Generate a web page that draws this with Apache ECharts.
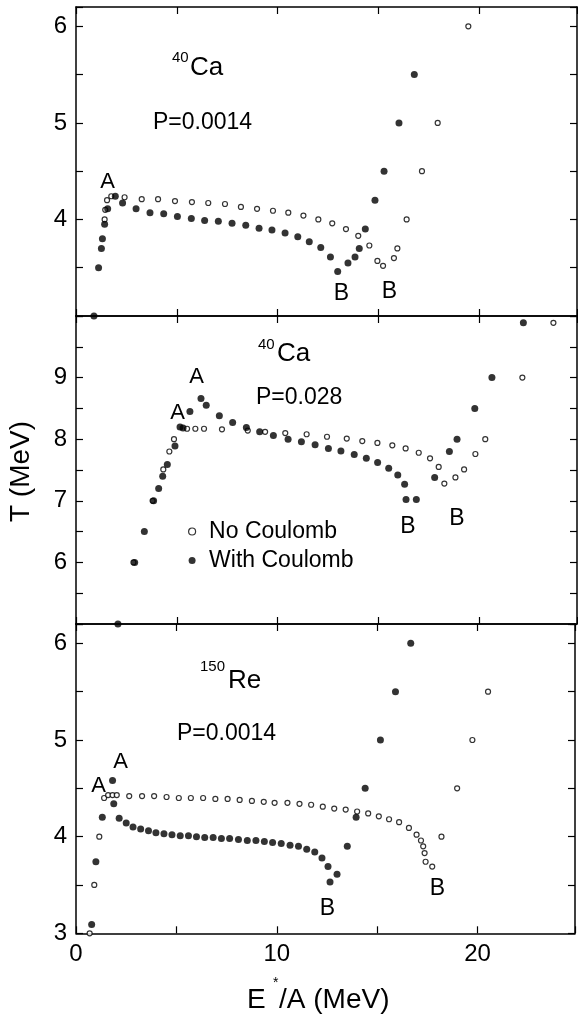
<!DOCTYPE html>
<html>
<head>
<meta charset="utf-8">
<script src="https://cdn.jsdelivr.net/npm/echarts@6/dist/echarts.min.js"></script>
<style>
  html, body { margin: 0; padding: 0; background: #fff; }
  #chart { width: 578px; height: 1017px; }
</style>
</head>
<body>
<div id="chart"></div>
<script>
// Temperature T (MeV) versus excitation energy per nucleon E*/A (MeV)
// [E*/A, T] pairs, open circles = no Coulomb, filled circles = with Coulomb

// 40Ca, P = 0.0014
const ca0014NoCoulomb = [[1.42,4.00],[1.45,4.10],[1.54,4.20],[1.75,4.24],[2.41,4.23],[3.26,4.21],[4.07,4.21],[4.91,4.19],[5.75,4.18],[6.56,4.17],[7.39,4.16],[8.18,4.13],[8.98,4.11],[9.77,4.09],[10.53,4.07],[11.28,4.04],[12.02,4.00],[12.71,3.96],[13.39,3.90],[14.00,3.83],[14.55,3.73],[14.95,3.57],[15.23,3.52],[15.77,3.60],[15.94,3.70],[16.40,4.00],[17.16,4.50],[17.94,5.00],[19.46,6.00]];
const ca0014WithCoulomb = [[0.89,3.00],[1.12,3.50],[1.26,3.70],[1.31,3.80],[1.42,3.95],[1.57,4.11],[1.95,4.24],[2.31,4.17],[2.98,4.11],[3.67,4.07],[4.35,4.06],[5.03,4.03],[5.72,4.01],[6.38,3.99],[7.06,3.98],[7.74,3.96],[8.42,3.94],[9.08,3.91],[9.72,3.89],[10.37,3.86],[11.00,3.82],[11.57,3.77],[12.14,3.71],[12.62,3.61],[12.98,3.46],[13.49,3.55],[13.84,3.61],[14.05,3.70],[14.35,3.90],[14.83,4.20],[15.28,4.50],[16.02,5.00],[16.78,5.50]];

// 40Ca, P = 0.028
const ca028NoCoulomb = [[2.85,6.00],[3.80,7.00],[4.33,7.51],[4.63,7.80],[4.86,8.00],[5.51,8.17],[5.92,8.17],[6.35,8.17],[7.24,8.16],[8.52,8.14],[9.38,8.12],[10.38,8.10],[11.44,8.08],[12.45,8.04],[13.43,8.01],[14.20,7.97],[14.95,7.94],[15.69,7.90],[16.35,7.85],[17.00,7.78],[17.56,7.69],[17.99,7.55],[18.27,7.28],[18.82,7.38],[19.25,7.51],[19.81,7.76],[20.30,8.00],[22.14,9.00],[23.68,9.89]];
const ca028WithCoulomb = [[2.08,5.00],[2.91,6.00],[3.39,6.50],[3.85,7.00],[4.10,7.20],[4.30,7.40],[4.53,7.59],[4.91,7.89],[5.16,8.20],[5.31,8.18],[5.65,8.45],[6.20,8.66],[6.46,8.55],[7.11,8.38],[7.77,8.27],[8.45,8.19],[9.11,8.12],[9.79,8.06],[10.52,8.00],[11.18,7.96],[11.86,7.91],[12.52,7.85],[13.14,7.81],[13.80,7.75],[14.40,7.69],[14.96,7.62],[15.51,7.53],[15.96,7.42],[16.30,7.27],[16.37,7.02],[16.88,7.02],[17.79,7.38],[18.52,7.80],[18.90,8.00],[19.78,8.50],[20.63,9.00],[22.19,9.89]];

// 150Re, P = 0.0014
const re0014NoCoulomb = [[0.68,3.00],[0.91,3.50],[1.16,4.00],[1.40,4.40],[1.60,4.43],[1.82,4.43],[2.03,4.43],[2.65,4.42],[3.29,4.42],[3.89,4.42],[4.51,4.41],[5.12,4.40],[5.72,4.40],[6.33,4.40],[6.94,4.39],[7.55,4.39],[8.15,4.38],[8.76,4.37],[9.35,4.36],[9.89,4.35],[10.53,4.35],[11.13,4.34],[11.71,4.33],[12.29,4.31],[12.86,4.29],[13.43,4.28],[14.00,4.26],[14.55,4.24],[15.08,4.21],[15.59,4.18],[16.09,4.15],[16.58,4.09],[16.96,4.02],[17.18,3.96],[17.29,3.90],[17.36,3.83],[17.41,3.74],[17.74,3.69],[18.20,4.00],[18.98,4.50],[19.74,5.00],[20.52,5.50]];
const re0014WithCoulomb = [[0.78,3.09],[0.99,3.74],[1.31,4.20],[1.82,4.58],[1.88,4.34],[2.15,4.19],[2.50,4.14],[2.84,4.10],[3.22,4.08],[3.61,4.06],[3.98,4.04],[4.38,4.03],[4.78,4.02],[5.19,4.01],[5.60,4.01],[6.00,4.00],[6.41,3.99],[6.83,3.99],[7.24,3.98],[7.65,3.98],[8.09,3.97],[8.53,3.96],[8.96,3.96],[9.38,3.95],[9.79,3.94],[10.22,3.93],[10.66,3.91],[11.08,3.90],[11.49,3.87],[11.89,3.84],[12.25,3.78],[12.55,3.69],[12.65,3.53],[13.00,3.61],[13.51,3.90],[13.95,4.20],[14.40,4.50],[15.16,5.00],[15.91,5.50],[16.67,6.00]];

// axis ranges and labelled ticks
const xRange = [0, 24.85];
const xLabels = [0, 10, 20];
const yRanges = [[3, 6.2], [5, 10], [3, 6.2]];
const yLabels = [[4, 5, 6], [6, 7, 8, 9], [3, 4, 5, 6]];

const panels = [
  { open: ca0014NoCoulomb, filled: ca0014WithCoulomb },
  { open: ca028NoCoulomb, filled: ca028WithCoulomb },
  { open: re0014NoCoulomb, filled: re0014WithCoulomb }
];

const FONT = '"Liberation Sans", Arial, Helvetica, sans-serif';
const lineStyle = { color: '#000', width: 1.5 };
const tickStyle = { show: true, inside: true, length: 7, lineStyle: { color: '#000', width: 1.2 } };

const grids = [
  { left: 76, right: 1, top: 7, height: 309 },
  { left: 76, right: 1, top: 316, height: 308 },
  { left: 76, right: 1, top: 624, height: 309.3 }
];

const xAxes = [], yAxes = [], series = [];
grids.forEach((g, i) => {
  const isBottom = i === grids.length - 1;
  ['bottom', 'top'].forEach(pos => {
    xAxes.push({
      type: 'value', gridIndex: i, position: pos,
      min: xRange[0], max: xRange[1], interval: 5,
      axisLine: { show: true, onZero: false, lineStyle },
      axisTick: tickStyle,
      splitLine: { show: false },
      axisLabel: {
        show: isBottom && pos === 'bottom',
        margin: 9, color: '#000', fontSize: 24, fontFamily: FONT,
        formatter: v => xLabels.includes(v) ? String(v) : ''
      }
    });
  });
  ['left', 'right'].forEach(pos => {
    yAxes.push({
      type: 'value', gridIndex: i, position: pos,
      min: yRanges[i][0], max: yRanges[i][1], interval: 0.5,
      axisLine: { show: true, onZero: false, lineStyle },
      axisTick: tickStyle,
      splitLine: { show: false },
      axisLabel: {
        show: pos === 'left',
        margin: 9, color: '#000', fontSize: 24, fontFamily: FONT,
        formatter: v => yLabels[i].includes(v) ? String(v) : ''
      }
    });
  });
  series.push({
    name: 'No Coulomb', type: 'scatter', xAxisIndex: 2 * i, yAxisIndex: 2 * i,
    data: panels[i].open, symbol: 'circle', symbolSize: 5, clip: false,
    itemStyle: { color: '#fff', borderColor: '#000', borderWidth: 1.2 },
    emphasis: { disabled: true }, z: 2
  });
  series.push({
    name: 'With Coulomb', type: 'scatter', xAxisIndex: 2 * i, yAxisIndex: 2 * i,
    data: panels[i].filled, symbol: 'circle', symbolSize: 7, clip: false,
    itemStyle: { color: '#000', borderWidth: 0 },
    emphasis: { disabled: true }, z: 3
  });
});

function txt(x, y, s, size, extra) {
  return Object.assign({
    type: 'text', silent: true, z: 10,
    style: { x, y, text: s, fill: '#000', font: size + 'px ' + FONT, verticalAlign: 'middle', align: 'left' }
  }, extra || {});
}

const graphic = [
  // panel labels
  txt(172, 57.5, '40', 15), txt(190, 67.5, 'Ca', 26), txt(153, 122.5, 'P=0.0014', 23),
  txt(258, 345, '40', 15), txt(277, 354, 'Ca', 26), txt(256, 397.5, 'P=0.028', 23),
  txt(200, 666.5, '150', 15), txt(228, 680.5, 'Re', 26), txt(177, 734, 'P=0.0014', 23),
  // A / B markers
  txt(107.5, 182, 'A', 22, {}), txt(341.5, 294, 'B', 23), txt(389.5, 291.5, 'B', 23),
  txt(196.7, 377, 'A', 22), txt(177.5, 413, 'A', 22), txt(408, 527, 'B', 23), txt(457, 518.5, 'B', 23),
  txt(120.5, 762, 'A', 22), txt(98.5, 785.5, 'A', 22), txt(327.5, 909, 'B', 23), txt(437.5, 888.5, 'B', 23),
  // axis titles
  {
    type: 'text', silent: true, x: 21.5, y: 471.5, rotation: Math.PI / 2,
    style: { x: 0, y: 0, text: 'T (MeV)', fill: '#000', font: '28px ' + FONT, align: 'center', verticalAlign: 'middle' }
  },
  txt(247, 1000, 'E', 28),
  txt(273, 983, '*', 14),
  txt(279, 1000, '/A (MeV)', 28)
];
// centre the A/B markers on their positions
graphic.forEach(g => { if (g.style && (g.style.text === 'A' || g.style.text === 'B')) g.style.align = 'center'; });

const chart = echarts.init(document.getElementById('chart'), null, { renderer: 'canvas' });
chart.setOption({
  animation: false,
  backgroundColor: '#fff',
  grid: grids,
  xAxis: xAxes,
  yAxis: yAxes,
  series,
  legend: {
    orient: 'vertical', left: 183, top: 515, itemGap: 6,
    itemWidth: 24, itemHeight: 7, icon: 'circle',
    selectedMode: false,
    textStyle: { color: '#000', fontSize: 23, fontFamily: FONT, lineHeight: 23 },
    data: [
      { name: 'No Coulomb', itemStyle: { color: '#fff', borderColor: '#000', borderWidth: 1.2 } },
      { name: 'With Coulomb', itemStyle: { color: '#000', borderWidth: 0 } }
    ]
  },
  graphic
});
</script>
</body>
</html>
